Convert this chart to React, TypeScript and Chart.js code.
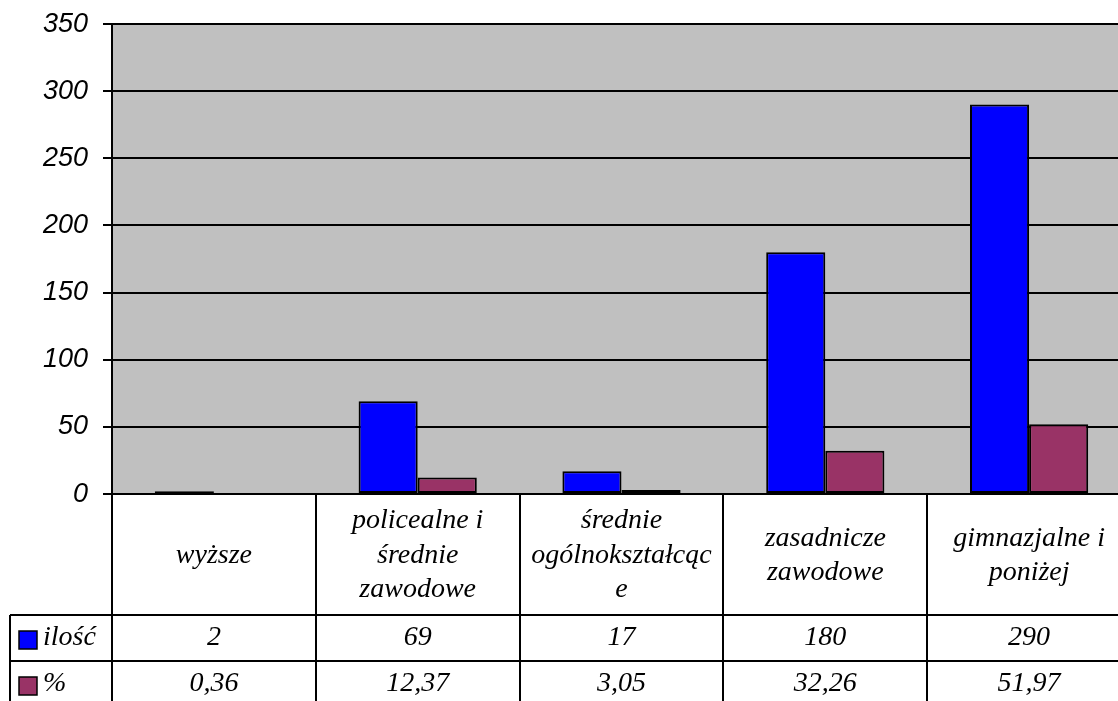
import { useEffect, useRef } from "react";
import { Chart, registerables } from "chart.js";

Chart.register(...registerables);

// ---- data ----
const categories: string[][] = [
  ["wyższe"],
  ["policealne i", "średnie", "zawodowe"],
  ["średnie", "ogólnokształcąc", "e"],
  ["zasadnicze", "zawodowe"],
  ["gimnazjalne i", "poniżej"],
];
const seriesNames = ["ilość", "%"];
const countValues = [2, 69, 17, 180, 290];
const percentValues = [0.36, 12.37, 3.05, 32.26, 51.97];
const yMin = 0;
const yMax = 350;
const yStep = 50;

const seriesColors = ["#0000FF", "#993366"];

const fmt = (v: number, decimals: number) =>
  decimals > 0 ? v.toFixed(decimals).replace(".", ",") : String(v);

const tableRows = [
  { name: seriesNames[0], values: countValues, decimals: 0, color: seriesColors[0] },
  { name: seriesNames[1], values: percentValues, decimals: 2, color: seriesColors[1] },
];

const CAT_ROW_H = 121;
const VAL_ROW_H = 46;
const LEGEND_LEFT = 10;
const SERIF = "italic 28px 'Liberation Serif', 'Times New Roman', serif";

const tablePlugin = {
  id: "dataTable",
  beforeDraw(chart: any) {
    const { ctx, chartArea: a } = chart;
    ctx.save();
    ctx.fillStyle = "#FFFFFF";
    ctx.fillRect(0, 0, chart.width, chart.height);
    ctx.fillStyle = "#C0C0C0";
    ctx.fillRect(a.left, a.top, a.right - a.left, a.bottom - a.top);
    ctx.restore();
  },
  afterDraw(chart: any) {
    const { ctx, chartArea: a } = chart;
    const n = categories.length;
    const colW = (a.right - a.left) / n;
    const r1 = a.bottom + CAT_ROW_H;
    const r2 = r1 + VAL_ROW_H;
    const bottom = chart.height;

    ctx.save();
    ctx.strokeStyle = "#000";
    ctx.lineWidth = 2;
    ctx.beginPath();
    ctx.moveTo(a.left, a.bottom);
    ctx.lineTo(a.left, bottom);
    for (let i = 1; i <= n; i++) {
      const x = Math.round(a.left + i * colW);
      ctx.moveTo(x, a.bottom);
      ctx.lineTo(x, bottom);
    }
    ctx.moveTo(LEGEND_LEFT, r1);
    ctx.lineTo(LEGEND_LEFT, bottom);
    ctx.moveTo(LEGEND_LEFT, r1);
    ctx.lineTo(a.right, r1);
    ctx.moveTo(LEGEND_LEFT, r2);
    ctx.lineTo(a.right, r2);
    ctx.stroke();

    ctx.fillStyle = "#000";
    ctx.font = SERIF;
    ctx.textAlign = "center";
    ctx.textBaseline = "middle";
    const catMid = (a.bottom + r1) / 2;
    const lh = 34.5;
    categories.forEach((lines, i) => {
      const cx = a.left + (i + 0.5) * colW;
      lines.forEach((t, j) => {
        ctx.fillText(t, cx, catMid + (j - (lines.length - 1) / 2) * lh + 1);
      });
    });

    const rowMids = [r1 + VAL_ROW_H / 2, r2 + VAL_ROW_H / 2];
    tableRows.forEach((row, ri) => {
      const y = rowMids[ri];
      row.values.forEach((v, i) => {
        const cx = a.left + (i + 0.5) * colW;
        ctx.fillStyle = "#000";
        ctx.textAlign = "center";
        ctx.fillText(fmt(v, row.decimals), cx, y);
      });
      ctx.fillStyle = row.color;
      ctx.fillRect(19, y - 7, 18, 18);
      ctx.lineWidth = 1.5;
      ctx.strokeRect(19, y - 7, 18, 18);
      ctx.fillStyle = "#000";
      ctx.textAlign = "left";
      ctx.fillText(row.name, 43, y);
    });
    ctx.restore();
  },
};

export default function App() {
  const ref = useRef<HTMLCanvasElement | null>(null);
  useEffect(() => {
    if (!ref.current) return;
    const chart = new Chart(ref.current, {
      type: "bar",
      data: {
        labels: categories.map((c) => c.join(" ")),
        datasets: [
          {
            label: seriesNames[0],
            data: countValues,
            backgroundColor: seriesColors[0],
            borderColor: "#000",
            borderWidth: 2,
            borderSkipped: false,
          },
          {
            label: seriesNames[1],
            data: percentValues,
            backgroundColor: seriesColors[1],
            borderColor: "#000",
            borderWidth: 2,
            borderSkipped: false,
          },
        ],
      },
      options: {
        animation: false,
        responsive: false,
        devicePixelRatio: 1,
        layout: { padding: { top: 24, right: 9, bottom: 207, left: 0 } },
        datasets: { bar: { categoryPercentage: 0.58, barPercentage: 1 } },
        plugins: { legend: { display: false }, tooltip: { enabled: false } },
        scales: {
          x: { display: false },
          y: {
            min: yMin,
            max: yMax,
            ticks: {
              stepSize: yStep,
              color: "#000",
              padding: 15,
              font: { family: "'Liberation Sans', Arial, sans-serif", style: "italic", size: 27 },
            },
            grid: { color: "#000", lineWidth: 2, tickLength: 9, drawTicks: true },
            border: { display: true, color: "#000", width: 2 },
            afterFit: (scale: any) => {
              scale.width = 112;
              scale.paddingTop = 0;
              scale.paddingBottom = 0;
            },
          },
        },
      },
      plugins: [tablePlugin],
    });
    return () => chart.destroy();
  }, []);
  return (
    <div
      style={{
        position: "fixed",
        left: 0,
        top: 0,
        width: 1118,
        height: 701,
        overflow: "hidden",
        background: "#fff",
      }}
    >
      <canvas ref={ref} width={1140} height={701} style={{ width: 1140, height: 701, display: "block" }} />
    </div>
  );
}
